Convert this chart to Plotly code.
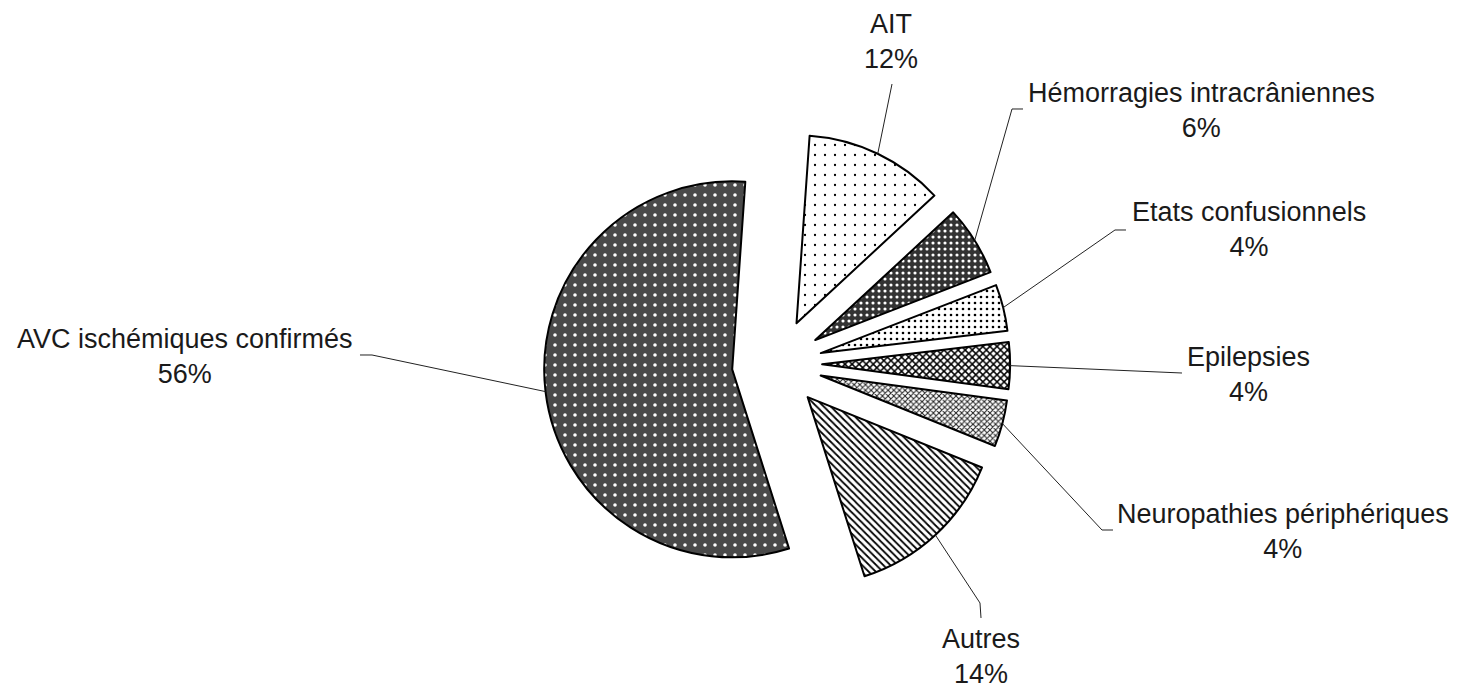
import math
import plotly.graph_objects as go

# ---- data ----
labels = ["AIT", "Hémorragies intracrâniennes", "Etats confusionnels", "Epilepsies",
          "Neuropathies périphériques", "Autres", "AVC ischémiques confirmés"]
values = [12, 6, 4, 4, 4, 14, 56]

# ---- styles ----
pat_shape = [".", ".", ".", "x", "x", "\\", "."]
pat_bg = ["white", "#333333", "white", "white", "white", "white", "#4a4a4a"]
pat_fg = ["black", "white", "black", "black", "#222222", "black", "white"]
pat_size = [10, 6, 6, 5, 4, 5, 10]
pat_sol = [0.04, 0.22, 0.15, 0.5, 0.45, 0.35, 0.1]

W, H = 1459, 690
CX, CY = 777, 364          # pie centre (px)
R = 188                    # slice radius (px)
PULL = 0.24
ROT = 4

box = 2 * R * (1 + PULL)
dom_x = [(CX - box / 2) / W, (CX + box / 2) / W]
dom_y = [1 - (CY + box / 2) / H, 1 - (CY - box / 2) / H]

fig = go.Figure(go.Pie(
    labels=labels, values=values, sort=False, direction="clockwise",
    rotation=ROT, pull=[PULL] * len(values), textinfo="none", hoverinfo="label+percent",
    showlegend=False, domain=dict(x=dom_x, y=dom_y),
    marker=dict(line=dict(color="black", width=2),
                pattern=dict(shape=pat_shape, bgcolor=pat_bg, fgcolor=pat_fg,
                             size=pat_size, solidity=pat_sol, fillmode="replace")),
))

# label centres and leader-line bends (px)
label_pos = [(891, 42), (1201, 110), (1249, 230), (1248, 374), (1283, 531), (981, 656), (185, 356)]
bends = [[(892, 84)], [(1012, 109), (1023, 109)], [(1115, 230), (1126, 230)], [(1182, 373)],
         [(1102, 530), (1113, 530)], [(980, 603), (981, 618)], [(372, 355), (360, 355)]]

def px(x, y):
    return x / W, 1 - y / H

total = sum(values)
cum = 0
shapes = []
annotations = []
for lab, v, (lx, ly), bend in zip(labels, values, label_pos, bends):
    mid = math.radians(ROT + (cum + v / 2) / total * 360)
    cum += v
    d = R * (1 + PULL)
    sx, sy = CX + d * math.sin(mid), CY - d * math.cos(mid)
    pts = [(sx, sy)] + bend
    path = "M " + " L ".join(f"{px(x, y)[0]:.5f},{px(x, y)[1]:.5f}" for x, y in pts)
    shapes.append(dict(type="path", path=path, xref="paper", yref="paper",
                       line=dict(color="#222222", width=1)))
    ax, ay = px(lx, ly)
    annotations.append(dict(text=f"{lab}<br>{v}%", x=ax, y=ay, xref="paper", yref="paper",
                            xanchor="center", yanchor="middle", showarrow=False, align="center",
                            font=dict(family="Liberation Sans, Arial, sans-serif", size=27, color="#1a1a1a")))

fig.update_layout(width=W, height=H, margin=dict(l=0, r=0, t=0, b=0),
                  paper_bgcolor="white", plot_bgcolor="white",
                  shapes=shapes, annotations=annotations)
fig.write_html("out.html")
